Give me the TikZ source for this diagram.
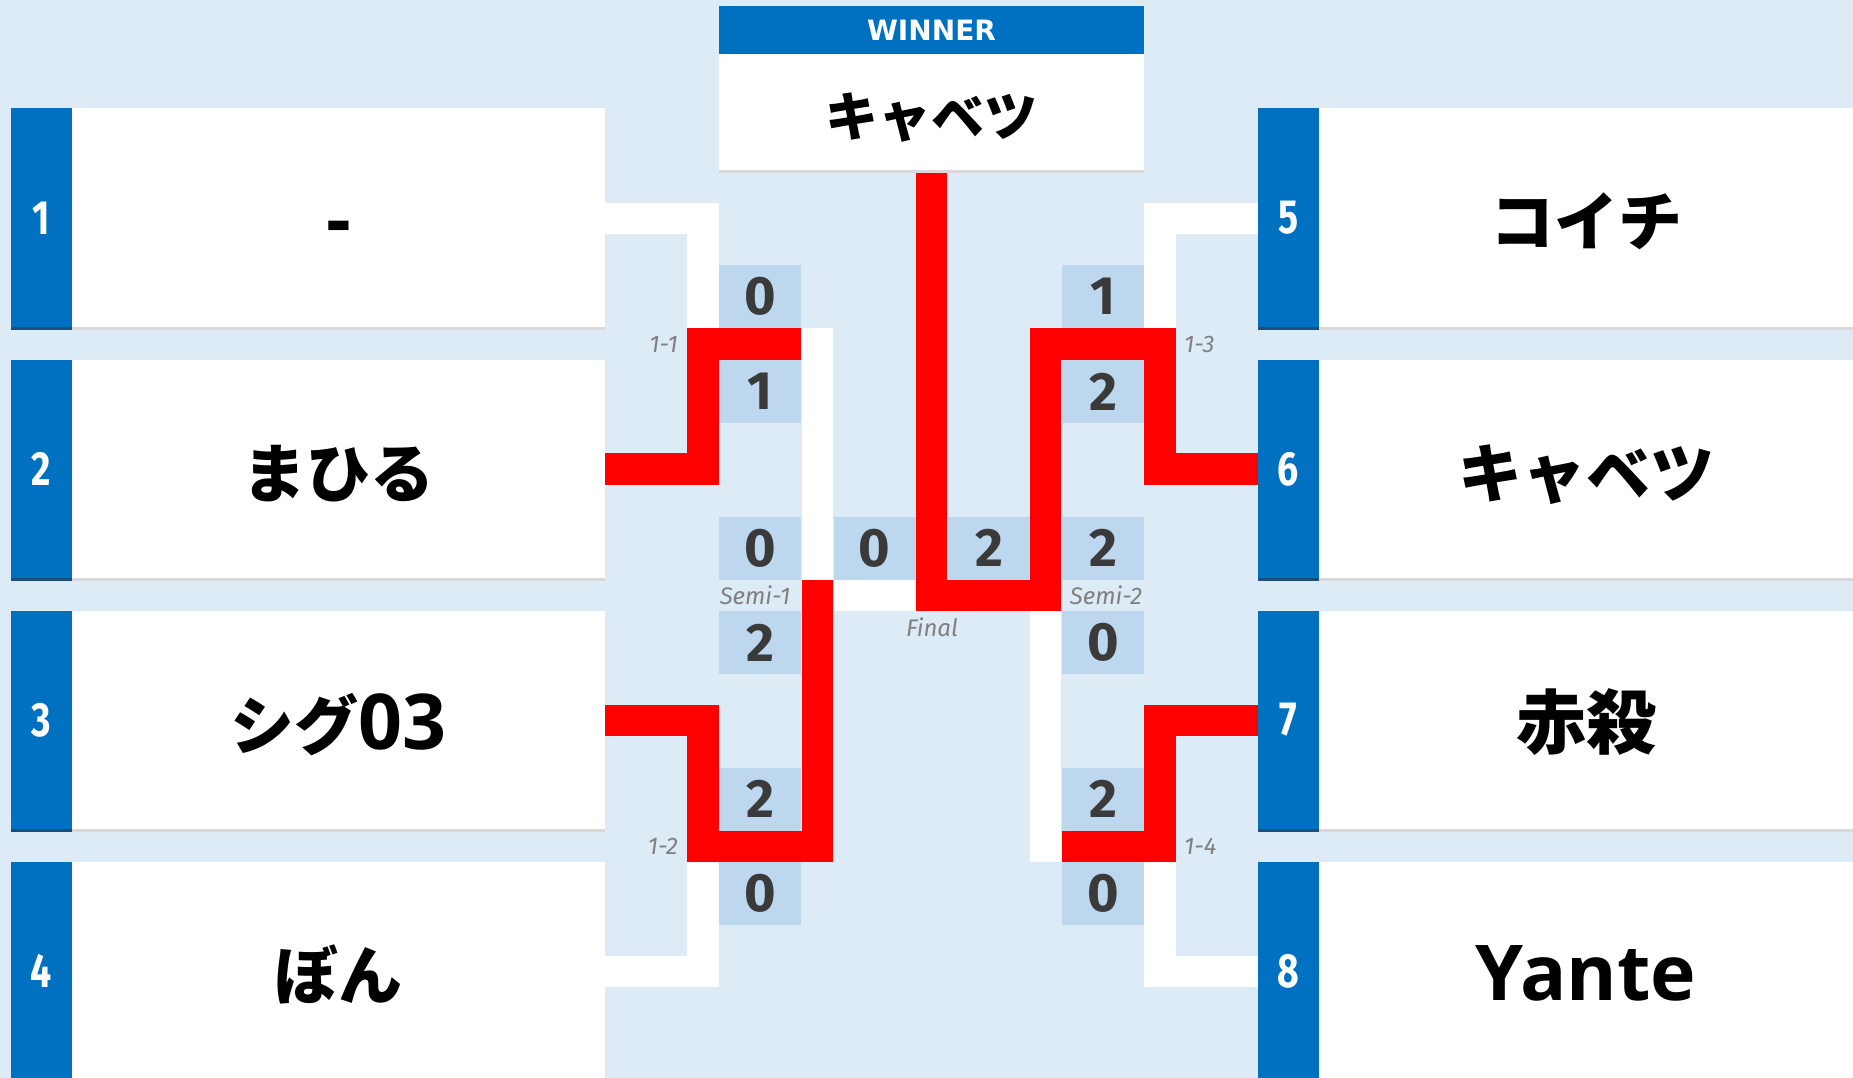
\documentclass[tikz,border=0pt]{standalone}
\usepackage{fontspec}
\setmainfont{Open Sans}
\newfontfamily\latf{Open Sans}
\newfontfamily\cjk{Noto Sans CJK JP}
\newfontfamily\numf{Fira Sans}
\newfontfamily\wfont{DejaVu Sans}
\definecolor{bg}{HTML}{DDEBF7}
\definecolor{scorebg}{HTML}{BDD7EE}
\definecolor{tabblue}{HTML}{0070C0}
\definecolor{tabline}{HTML}{1F4E79}
\definecolor{greyline}{HTML}{D9D9D9}
\definecolor{scoretxt}{HTML}{3A3A3A}
\definecolor{lbltxt}{HTML}{808080}
\definecolor{win}{HTML}{FF0000}
\newcommand\jpn[1]{{\cjk\bfseries\fontsize{64}{64}\selectfont #1}}
\newcommand\jpk[1]{{\cjk\bfseries\fontsize{70}{70}\selectfont #1}}
\tikzset{
  namelbl/.style={anchor=base, inner sep=0, font=\latf\bfseries\fontsize{77}{77}\selectfont},
  seedlbl/.style={text=white, inner sep=0, font=\numf\bfseries\fontsize{48}{48}\selectfont},
  scorebox/.style={fill=scorebg, minimum width=82pt, minimum height=63pt, inner sep=0,
    text=scoretxt, font=\numf\bfseries\fontsize{54}{54}\selectfont},
  roundlbl/.style={text=lbltxt, inner sep=0, font=\numf\itshape\fontsize{24}{24}\selectfont},
  winline/.style={draw=win, line width=31.5pt, line join=miter, line cap=butt},
  loseline/.style={draw=white, line width=31.5pt, line join=miter, line cap=butt},
}
\newcommand\seed[1]{\scalebox{0.78}[1]{#1}}
\begin{document}
\begin{tikzpicture}[x=1pt,y=-1pt]
\fill[bg] (0,0) rectangle (1853,1078);
\useasboundingbox (0,0) rectangle (1853,1078);

% winner box
\fill[tabblue] (719,6) rectangle (1144,54);
\fill[white] (719,54) rectangle (1144,170);
\fill[greyline] (719,170) rectangle (1144,173);
\node[text=white, inner sep=0, font=\wfont\bfseries\fontsize{28}{28}\selectfont] (winhead) at (931.5,30) {WINNER};
\node[anchor=base, inner sep=0, font=\cjk\bfseries\fontsize{53}{53}\selectfont] (winner) at (931.5,137) {キャベツ};

% player boxes
\foreach \t/\b in {108/327,360/578,611/829}{
  \fill[tabblue] (11,\t) rectangle (72,\b);
  \fill[white] (72,\t) rectangle (605,\b);
  \fill[tabline] (11,\b) rectangle (72,\b+3);
  \fill[greyline] (72,\b) rectangle (605,\b+3);
  \fill[tabblue] (1258,\t) rectangle (1319,\b);
  \fill[white] (1319,\t) rectangle (1853,\b);
  \fill[tabline] (1258,\b) rectangle (1319,\b+3);
  \fill[greyline] (1319,\b) rectangle (1853,\b+3);
}
\fill[tabblue] (11,862) rectangle (72,1078);
\fill[white] (72,862) rectangle (605,1078);
\fill[tabblue] (1258,862) rectangle (1319,1078);
\fill[white] (1319,862) rectangle (1853,1078);

% seeds
\node[seedlbl] (s1) at (41.5,218) {\seed{1}};
\node[seedlbl] (s2) at (41.5,469) {\seed{2}};
\node[seedlbl] (s3) at (41.5,720) {\seed{3}};
\node[seedlbl] (s4) at (41.5,971) {\seed{4}};
\node[seedlbl] (s5) at (1288.5,218) {\seed{5}};
\node[seedlbl] (s6) at (1288.5,469) {\seed{6}};
\node[seedlbl] (s7) at (1288.5,720) {\seed{7}};
\node[seedlbl] (s8) at (1288.5,971) {\seed{8}};

% names
\node[namelbl] (p1) at (338.5,247) {-};
\node[namelbl] (p2) at (338.5,497) {\jpn{まひる}};
\node[namelbl] (p3) at (338.5,749) {\jpn{シグ}03};
\node[namelbl] (p4) at (338.5,999) {\jpn{ぼん}};
\node[namelbl] (p5) at (1586,246) {\jpn{コイチ}};
\node[namelbl] (p6) at (1586,497) {\jpn{キャベツ}};
\node[namelbl] (p7) at (1586,748) {\jpk{赤殺}};
\node[namelbl] (p8) at (1586,1000) {Yante};

% score boxes
\node[scorebox] (a1) at (760,296.5) {0};
\node[scorebox] (a2) at (760,391.5) {1};
\node[scorebox] (a3) at (760,548) {0};
\node[scorebox] (a4) at (760,642.5) {2};
\node[scorebox] (a5) at (760,799) {2};
\node[scorebox] (a6) at (760,893.5) {0};
\node[scorebox] (f1) at (874.5,548) {0};
\node[scorebox] (f2) at (989,548) {2};
\node[scorebox] (b1) at (1103,296.5) {1};
\node[scorebox] (b2) at (1103,391.5) {2};
\node[scorebox] (b3) at (1103,548) {2};
\node[scorebox] (b4) at (1103,642.5) {0};
\node[scorebox] (b5) at (1103,799) {2};
\node[scorebox] (b6) at (1103,893.5) {0};

% junction coordinates
\coordinate (j11) at (703,344);
\coordinate (j12) at (703,846.5);
\coordinate (js1) at (817.5,595.5);
\coordinate (jf) at (931.5,595.5);
\coordinate (js2) at (1045.5,595.5);
\coordinate (j13) at (1160,344);
\coordinate (j14) at (1160,846.5);

% losing lines (white)
\draw[loseline] (605,218.5) -| (703,328);
\draw[loseline] (801,344) -| (817.5,580);
\draw[loseline] (834,595.5) -- (915,595.5);
\draw[loseline] (605,971.5) -| (703,862);
\draw[loseline] (1258,218.5) -| (1160,328);
\draw[loseline] (1045.5,611) |- (1062,846.5);
\draw[loseline] (1258,971.5) -| (1160,862);

% winning lines (red)
\draw[winline] (605,469) -| (j11) -- (801,344);
\draw[winline] (605,720.5) -| (j12) -| (817.5,580);
\draw[winline] (931.5,173) -- (jf) -- (js2) |- (j13) |- (1258,469);
\draw[winline] (1258,720.5) -| (j14) -- (1062,846.5);

% round labels
\node[roundlbl, anchor=east] (l11) at (678,344) {1-1};
\node[roundlbl, anchor=east] (l12) at (678,846.5) {1-2};
\node[roundlbl, anchor=west] (l13) at (1184,344) {1-3};
\node[roundlbl, anchor=west] (l14) at (1184,846.5) {1-4};
\node[roundlbl] (ls1) at (755,595.5) {Semi-1};
\node[roundlbl] (ls2) at (1106,595.5) {Semi-2};
\node[roundlbl] (lf) at (932,627) {Final};
\end{tikzpicture}
\end{document}
